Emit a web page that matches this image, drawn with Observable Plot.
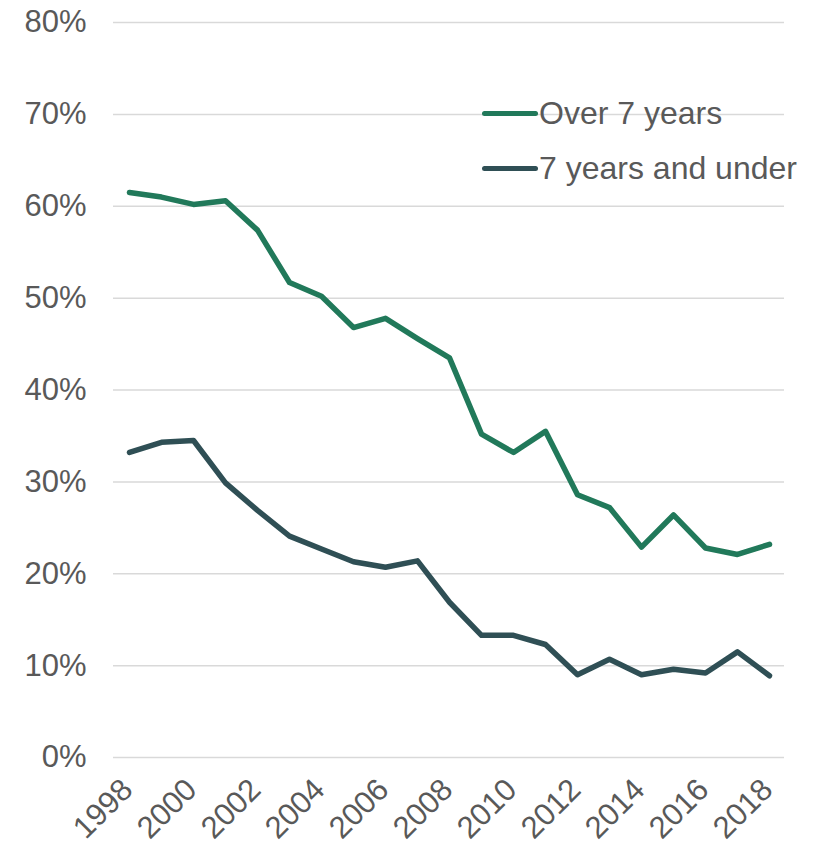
<!DOCTYPE html>
<html>
<head>
<meta charset="utf-8">
<script src="https://cdn.jsdelivr.net/npm/d3@7"></script>
<script src="https://cdn.jsdelivr.net/npm/@observablehq/plot@0.6"></script>
<style>
  html, body { margin: 0; padding: 0; background: #fff; }
  #wrap { position: relative; width: 813px; height: 845px; font-family: "Liberation Sans", Arial, sans-serif; overflow: hidden; }
  .lg-line { position: absolute; height: 5px; border-radius: 3px; }
  .lg-text { position: absolute; font-size: 32px; line-height: 36px; color: #595959; white-space: nowrap; }
</style>
</head>
<body>
<div id="wrap"></div>
<script>
const years = [1998, 1999, 2000, 2001, 2002, 2003, 2004, 2005, 2006, 2007, 2008, 2009, 2010, 2011, 2012, 2013, 2014, 2015, 2016, 2017, 2018];
const over7 = [61.5, 61.0, 60.2, 60.6, 57.4, 51.7, 50.2, 46.8, 47.8, 45.6, 43.5, 35.2, 33.2, 35.5, 28.6, 27.2, 22.9, 26.4, 22.8, 22.1, 23.2];
const under7 = [33.2, 34.3, 34.5, 29.9, 26.9, 24.1, 22.7, 21.3, 20.7, 21.4, 16.9, 13.3, 13.3, 12.3, 9.0, 10.7, 9.0, 9.6, 9.2, 11.5, 8.9];
const seriesNames = ["Over 7 years", "7 years and under"];
const seriesColors = ["#21795a", "#2f4f55"];
const yTicks = [0, 10, 20, 30, 40, 50, 60, 70, 80];
const xTicks = [1998, 2000, 2002, 2004, 2006, 2008, 2010, 2012, 2014, 2016, 2018];

const rows = [];
years.forEach((yr, i) => {
  rows.push({year: yr, value: over7[i], series: seriesNames[0]});
  rows.push({year: yr, value: under7[i], series: seriesNames[1]});
});

const chart = Plot.plot({
  width: 813,
  height: 845,
  marginLeft: 113,
  marginRight: 29,
  marginTop: 22,
  marginBottom: 88,
  style: {fontFamily: "'Liberation Sans', Arial, sans-serif", fontSize: "31px", color: "#595959", background: "#fff", overflow: "visible"},
  x: {domain: [1998, 2018], insetLeft: 16, insetRight: 15},
  y: {domain: [0, 80]},
  color: {domain: seriesNames, range: seriesColors},
  marks: [
    Plot.ruleY(yTicks, {stroke: "#d9d9d9", strokeWidth: 1.5}),
    Plot.axisY({ticks: yTicks, tickFormat: d => d + "%", tickSize: 0, tickPadding: 27, fontSize: 31, fill: "#595959", label: null}),
    Plot.axisX({ticks: xTicks, tickFormat: d => String(d), tickSize: 0, tickRotate: -45, tickPadding: 27, dx: -2, fontSize: 31, fill: "#595959", label: null}),
    Plot.line(rows, {x: "year", y: "value", z: "series", stroke: "series", strokeWidth: 5.5, strokeLinecap: "round", strokeLinejoin: "round"})
  ]
});

const wrap = document.getElementById("wrap");
wrap.appendChild(chart);

const legendPos = [{lineTop: 111, textTop: 95}, {lineTop: 166, textTop: 150}];
seriesNames.forEach((name, i) => {
  const ln = document.createElement("div");
  ln.className = "lg-line";
  ln.style.left = "482px";
  ln.style.width = "56px";
  ln.style.top = legendPos[i].lineTop + "px";
  ln.style.background = seriesColors[i];
  wrap.appendChild(ln);
  const tx = document.createElement("div");
  tx.className = "lg-text";
  tx.style.left = "539px";
  tx.style.top = legendPos[i].textTop + "px";
  tx.textContent = name;
  wrap.appendChild(tx);
});
</script>
</body>
</html>
